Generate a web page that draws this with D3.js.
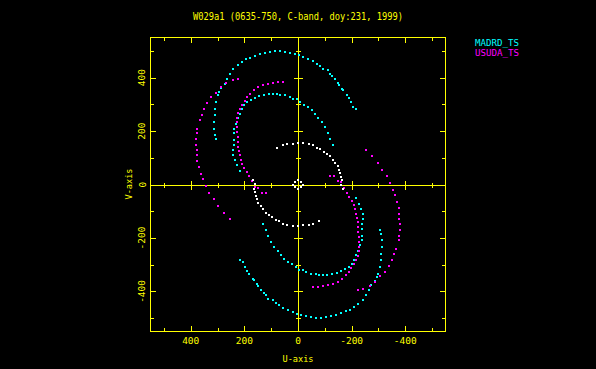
<!DOCTYPE html>
<html><head><meta charset="utf-8">
<script src="https://cdn.jsdelivr.net/npm/d3@7/dist/d3.min.js"></script>
<style>html,body{margin:0;padding:0;background:#000;}svg{display:block}</style>
</head><body>
<script>
// ---------------- data ----------------
const titleText = "W029a1 (0635-750, C-band, doy:231, 1999)";
const legendNames = ["MADRD_TS", "USUDA_TS"];
const legendColors = ["#00ffff", "#ff00ff"];
const majorTicks = [400, 200, 0, -200, -400];
const minorTicks = [500, 300, 100, -100, -300, -500];
const crossMajor = [400, 200, -200, -400];
const crossMinor = [500, 300, 100, -100, -300, -500];

// one half of each uv track (u, v); the conjugate half (-u, -v) is added below
const madrdOuter = [[305,172],[309,184],[312,209],[312,234],[309,259],[309,284],[306,309],[299,334],[294,346],[287,361],[274,377],[265,396],[253,415],[241,431],[224,446],[210,458],[195,468],[179,475],[160,479],[141,487],[123,493],[104,496],[86,498],[67,498],[48,496],[30,493],[12,490],[-5,484],[-20,477],[-38,468],[-57,462],[-70,452],[-82,443],[-94,433],[-111,427],[-119,415],[-128,406],[-138,394],[-148,381],[-154,371],[-163,359],[-169,352],[-181,336],[-190,322],[-197,309],[-206,290],[-216,281]];
const madrdInner = [[216,50],[228,72],[235,91],[241,109],[241,128],[238,147],[238,166],[237,191],[237,209],[231,228],[224,247],[216,265],[207,284],[200,296],[189,309],[176,318],[160,324],[144,331],[127,336],[108,337],[92,339],[77,339],[67,336],[48,334],[30,327],[17,321],[5,319],[-7,309],[-23,299],[-36,290],[-51,278],[-63,265],[-76,249],[-88,234],[-101,215],[-111,194],[-119,169],[-130,147]];
const usudaOuter = [[222,396],[242,390],[268,380],[287,365],[305,341],[324,326],[339,304],[350,284],[359,259],[367,240],[375,209],[377,191],[380,172],[380,147],[377,128],[375,109],[375,87],[369,66],[361,41],[355,20],[343,-5],[331,-30],[315,-55],[297,-80],[276,-105],[253,-130]];
const usudaInner = [[56,382],[73,383],[92,381],[111,377],[129,371],[148,365],[164,352],[179,340],[189,327],[197,311],[207,296],[216,284],[222,268],[226,250],[228,234],[228,215],[226,197],[224,178],[222,159],[222,141],[220,124],[216,109],[212,91],[207,75],[200,60],[191,45],[181,31],[172,12],[160,-9],[148,-14],[135,-30],[119,-33]];
const shortTrack = [[77,138],[57,147],[40,151],[20,153],[-1,157],[-20,157],[-42,151],[-57,147],[-70,138],[-82,132],[-98,122],[-107,113],[-119,106],[-129,93],[-138,82],[-148,68],[-153,56],[-156,43],[-160,28],[-163,16],[-159,-3],[-166,-15]];
const zeroSpacing = [[18,0],[13,11],[0,15],[-13,11]];

const withConjugate = half => half.concat(half.map(([u, v]) => [-u, -v]));
const series = [
  {color: "#00ffff", pts: withConjugate(madrdOuter.concat(madrdInner))},
  {color: "#ff00ff", pts: withConjugate(usudaOuter.concat(usudaInner))},
  {color: "#ffffff", pts: withConjugate(shortTrack.concat(zeroSpacing))}
];

// ---------------- drawing ----------------
const W = 596, H = 369;
const YEL = "#ffff00";
const FONT = "DejaVu Sans Mono";
const svg = d3.select("body").append("svg").attr("width", W).attr("height", H)
  .style("background", "#000");
svg.append("rect").attr("width", W).attr("height", H).attr("fill", "#000");

const x = d3.scaleLinear().domain([550, -550]).range([150.5, 445.5]);
const y = d3.scaleLinear().domain([550, -550]).range([37.5, 331.5]);
const [x0, x1] = x.range(), [y0, y1] = y.range();

function tickAxis(axisFn, scale, vals, size, tx, ty) {
  const g = svg.append("g").attr("transform", `translate(${tx},${ty})`)
    .call(axisFn(scale).tickValues(vals).tickSize(size).tickFormat(""));
  g.select(".domain").remove();
  g.selectAll("line").attr("stroke", YEL).attr("stroke-width", 1).attr("shape-rendering", "crispEdges");
  return g;
}
// frame ticks (inward)
tickAxis(d3.axisTop, x, majorTicks, 5.5, 0, y1);
tickAxis(d3.axisTop, x, minorTicks, 3.5, 0, y1);
tickAxis(d3.axisBottom, x, majorTicks, 5.5, 0, y0);
tickAxis(d3.axisBottom, x, minorTicks, 3.5, 0, y0);
tickAxis(d3.axisRight, y, majorTicks, 5.5, x0, 0);
tickAxis(d3.axisRight, y, minorTicks, 3.5, x0, 0);
tickAxis(d3.axisLeft, y, majorTicks, 5.5, x1, 0);
tickAxis(d3.axisLeft, y, minorTicks, 3.5, x1, 0);
// crosshair axes through origin
const cy = Math.round(y(0)) + 0.5, cx = Math.round(x(0)) + 0.5;
svg.append("line").attr("x1", x0).attr("x2", x1).attr("y1", cy).attr("y2", cy)
  .attr("stroke", YEL).attr("stroke-width", 1).attr("shape-rendering", "crispEdges");
svg.append("line").attr("x1", cx).attr("x2", cx).attr("y1", y0).attr("y2", y1)
  .attr("stroke", YEL).attr("stroke-width", 1).attr("shape-rendering", "crispEdges");
tickAxis(d3.axisTop, x, crossMajor, 4.5, 0, cy);
tickAxis(d3.axisBottom, x, crossMajor, 4.5, 0, cy);
tickAxis(d3.axisTop, x, crossMinor, 2.5, 0, cy);
tickAxis(d3.axisBottom, x, crossMinor, 2.5, 0, cy);
tickAxis(d3.axisLeft, y, crossMajor, 4.5, cx, 0);
tickAxis(d3.axisRight, y, crossMajor, 4.5, cx, 0);
tickAxis(d3.axisLeft, y, crossMinor, 2.5, cx, 0);
tickAxis(d3.axisRight, y, crossMinor, 2.5, cx, 0);
// frame box
svg.append("rect").attr("x", x0).attr("y", y0).attr("width", x1 - x0).attr("height", y1 - y0)
  .attr("fill", "none").attr("stroke", YEL).attr("stroke-width", 1).attr("shape-rendering", "crispEdges");

// points
series.forEach(s => {
  svg.append("g").selectAll("rect").data(s.pts).join("rect")
    .attr("x", d => Math.round(x(d[0])) - 1)
    .attr("y", d => Math.round(y(d[1])) - 1)
    .attr("width", 2).attr("height", 1.5)
    .attr("shape-rendering", "crispEdges")
    .attr("fill", s.color);
});

// labels
const txt = (t, px, py, opts = {}) => {
  const e = svg.append("text").attr("x", px).attr("y", py).text(t)
    .attr("fill", opts.color || YEL).attr("font-family", FONT)
    .attr("font-size", opts.size || 9.5).attr("text-anchor", opts.anchor || "middle");
  if (opts.rot) e.attr("transform", `rotate(-90,${px},${py})`);
  if (opts.len) e.attr("textLength", opts.len).attr("lengthAdjust", "spacingAndGlyphs");
  return e;
};
txt(titleText, 298, 19.8, {len: 210, size: 10});
majorTicks.forEach(t => txt(String(t), x(t), 343.8));
majorTicks.forEach(t => txt(String(t), 145.5, y(t), {rot: true}));
txt("U-axis", 298, 362.3, {len: 31});
txt("V-axis", 131.8, 184, {rot: true, len: 31});
legendNames.forEach((n, i) => txt(n, 475, 45.6 + i * 10, {anchor: "start", color: legendColors[i], len: 44}));
</script>
</body></html>
